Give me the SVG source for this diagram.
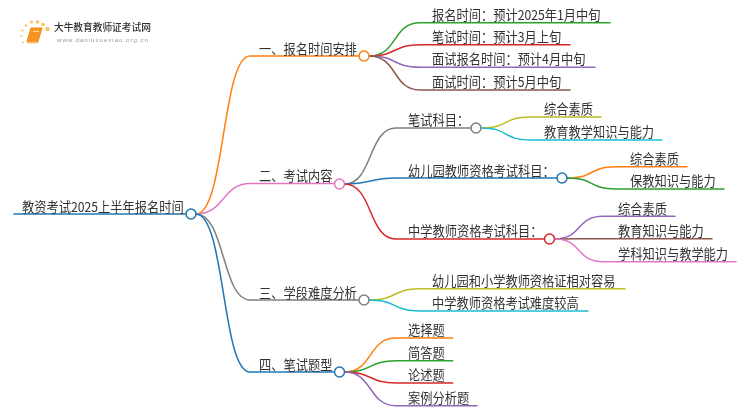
<svg xmlns="http://www.w3.org/2000/svg" width="750" height="410" viewBox="0 0 750 410">
<defs><filter id="soft" x="-5%" y="-30%" width="110%" height="160%"><feGaussianBlur stdDeviation="0.3"/></filter></defs>
<style>
text{font-family:"Noto Sans CJK SC","Liberation Sans",sans-serif;font-size:12.25px;fill:#333;filter:url(#soft);transform-box:fill-box;transform-origin:0 100%;transform:translateY(0.8px) scaleY(1.1)}
#logo text{transform:none}
.l{fill:none;stroke-width:1.5;stroke-linecap:round}
.n{fill:#fff;stroke-width:1.5}
.or{stroke:#ff7f0e}.gr{stroke:#2ca02c}.re{stroke:#d62728}.pu{stroke:#9467bd}.br{stroke:#8c564b}.pi{stroke:#e377c2}.ga{stroke:#7f7f7f}.ol{stroke:#bcbd22}.cy{stroke:#17becf}.bl{stroke:#1f77b4}
</style>
<rect width="750" height="410" fill="#fff"/>
<g id="connectors">
<path class="l bl" d="M14 214H186"/>
<path class="l or" d="M196 214C225 214 222 56 250 56H359"/>
<path class="l pi" d="M196 214C225 214 222 183.500 250 183.500H334"/>
<path class="l ga" d="M196 214C225 214 222 300 250 300H359"/>
<path class="l bl" d="M196 214C225 214 222 372 250 372H334"/>
<path class="l gr" d="M369 56C398 56 392 22.700 420 22.700H610"/>
<path class="l re" d="M369 56C398 56 392 44.700 420 44.700H570"/>
<path class="l pu" d="M369 56C398 56 392 67.300 420 67.300H595"/>
<path class="l br" d="M369 56C398 56 392 90 420 90H570"/>
<path class="l ga" d="M344.500 184C373 184 368 128 396 128H471"/>
<path class="l bl" d="M344.500 184C373 184 368 178 396 178H557"/>
<path class="l re" d="M344.500 184C373 184 368 239 396 239H544.500"/>
<path class="l ol" d="M481 128C510 128 502 117 530 117H601"/>
<path class="l cy" d="M481 128C510 128 502 140 530 140H662"/>
<path class="l or" d="M567 178C596 178 588 166.700 616 166.700H687"/>
<path class="l gr" d="M567 178C596 178 588 189 616 189H724"/>
<path class="l pu" d="M554.500 239C583 239 575 216.300 603 216.300H675"/>
<path class="l br" d="M554.500 239C583 239 575 238.700 603 238.700H712"/>
<path class="l pi" d="M554.500 239C583 239 575 261.700 603 261.700H736"/>
<path class="l ol" d="M369 300C398 300 392 288.700 420 288.700H625"/>
<path class="l cy" d="M369 300C398 300 392 311 420 311H588"/>
<path class="l or" d="M344.500 372C373 372 368 338 396 338H452.700"/>
<path class="l gr" d="M344.500 372C373 372 368 360.700 396 360.700H452.700"/>
<path class="l re" d="M344.500 372C373 372 368 383 396 383H452.700"/>
<path class="l pu" d="M344.500 372C373 372 368 405.700 396 405.700H477"/>
</g>
<g id="logo">
<g fill="#fbc25a">
<circle cx="47.500" cy="29" r="2.200"/><circle cx="43" cy="24.500" r="1.800"/><circle cx="37.500" cy="22" r="1.800"/><circle cx="31.500" cy="22" r="1.500"/><circle cx="26" cy="25.500" r="1.300"/><circle cx="22.500" cy="30.500" r="1.100"/><circle cx="21.500" cy="36" r="1"/><circle cx="23" cy="42.500" r="0.900"/>
</g>
<path d="M31 28H42L38 41.500H27Z" fill="#f7941d" stroke="#ef8a10" stroke-width="1" stroke-linejoin="round"/>
<path d="M27 41.500H38L37.500 43H28Z" fill="#fde2b5" stroke="#ef8a10" stroke-width="0.600"/>
<path d="M33 31.500H39" stroke="#ffd9a0" stroke-width="1"/>
<text x="54" y="31" style="font-size:9.700px;font-weight:500">大牛教育教师证考试网</text>
<text x="57" y="41.500" style="font-size:6.200px;fill:#999;letter-spacing:0.950px;font-family:'Liberation Sans',sans-serif">www.daniuxuexiao.org.cn</text>
</g>
<g id="root"><text x="22" y="212">教资考试2025上半年报名时间</text><circle class="n bl" cx="191" cy="214" r="5"/></g>
<g id="b1"><text x="259" y="53.500">一、报名时间安排</text><circle class="n or" cx="364" cy="56" r="5"/></g>
<g id="b2"><text x="259" y="181">二、考试内容</text><circle class="n pi" cx="339.500" cy="184" r="5"/></g>
<g id="b3"><text x="259" y="297.500">三、学段难度分析</text><circle class="n ga" cx="364" cy="300" r="5"/></g>
<g id="b4"><text x="259" y="369.500">四、笔试题型</text><circle class="n bl" cx="339.500" cy="372" r="5"/></g>
<g id="b1a"><text x="432" y="19.500">报名时间：预计2025年1月中旬</text></g>
<g id="b1b"><text x="432" y="42">笔试时间：预计3月上旬</text></g>
<g id="b1c"><text x="432" y="64">面试报名时间：预计4月中旬</text></g>
<g id="b1d"><text x="432" y="87">面试时间：预计5月中旬</text></g>
<g id="b2a"><text x="408" y="125">笔试科目：</text><circle class="n ga" cx="476" cy="128" r="5"/></g>
<g id="b2b"><text x="408" y="175.500">幼儿园教师资格考试科目：</text><circle class="n bl" cx="562" cy="178" r="5"/></g>
<g id="b2c"><text x="408" y="236">中学教师资格考试科目：</text><circle class="n re" cx="549.500" cy="239" r="5"/></g>
<g id="b2a1"><text x="544" y="113.500">综合素质</text></g>
<g id="b2a2"><text x="544" y="137">教育教学知识与能力</text></g>
<g id="b2b1"><text x="630" y="163.500">综合素质</text></g>
<g id="b2b2"><text x="630" y="186">保教知识与能力</text></g>
<g id="b2c1"><text x="618" y="213.500">综合素质</text></g>
<g id="b2c2"><text x="618" y="236">教育知识与能力</text></g>
<g id="b2c3"><text x="618" y="258.500">学科知识与教学能力</text></g>
<g id="b3a"><text x="432" y="285.500">幼儿园和小学教师资格证相对容易</text></g>
<g id="b3b"><text x="432" y="308">中学教师资格考试难度较高</text></g>
<g id="b4a"><text x="408" y="335">选择题</text></g>
<g id="b4b"><text x="408" y="357.500">简答题</text></g>
<g id="b4c"><text x="408" y="380">论述题</text></g>
<g id="b4d"><text x="408" y="402.500">案例分析题</text></g>
</svg>
